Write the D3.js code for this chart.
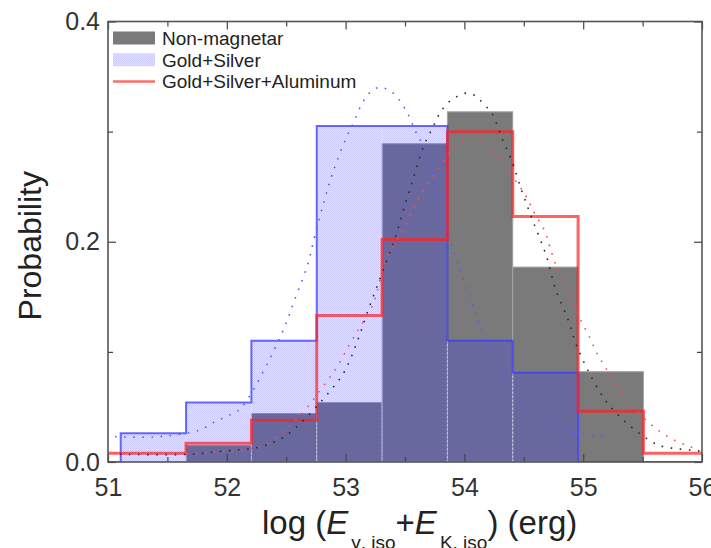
<!DOCTYPE html>
<html lang="en">
<head>
<meta charset="utf-8">
<title>Energy distribution</title>
<script src="https://d3js.org/d3.v7.min.js"></script>
<style>
  body { margin: 0; background: #fff; }
  svg { font-family: "Liberation Sans", Arial, sans-serif; }
  .axis path { display: none; }
  .axis line { stroke: #444; stroke-width: 1.2; }
  .axis text { fill: #333; font-size: 25px; }
</style>
</head>
<body>
<script>
// histogram bins (lower/upper edges, shared by the three samples)
var binEdges = [50.557, 51.107, 51.657, 52.207, 52.757, 53.307, 53.857, 54.407, 54.957, 55.507, 56.057];
var nonMagnetar = [0, 0, 0.015, 0.044, 0.054, 0.289, 0.318, 0.177, 0.082, 0];
var goldSilver = [0, 0.026, 0.054, 0.110, 0.305, 0.305, 0.110, 0.081, 0, 0];
var goldSilverAl = [0.008, 0.008, 0.017, 0.038, 0.133, 0.202, 0.300, 0.223, 0.046, 0.008];

// fitted curves
var fitGoldSilver = [[51.06,0.023],[51.43,0.023],[51.77,0.029],[51.89,0.036],[52.03,0.043],[52.12,0.049],
  [52.46,0.116],[52.57,0.147],[52.68,0.179],[52.74,0.205],[52.82,0.237],[52.89,0.262],[53.0,0.293],
  [53.07,0.309],[53.14,0.326],[53.2,0.335],[53.27,0.340],[53.34,0.339],[53.42,0.333],[53.52,0.317],
  [53.59,0.300],[53.66,0.285],[53.79,0.237],[53.9,0.195],[53.98,0.170],[54.06,0.147],[54.13,0.123],
  [54.23,0.097],[54.3,0.081],[54.39,0.065],[54.52,0.048],[54.68,0.036],[54.82,0.030],[54.96,0.026],[55.2,0.023]];
var fitNonMagnetar = [[51.1,0.007],[51.67,0.007],[51.98,0.010],[52.29,0.014],[52.51,0.025],[52.89,0.067],
  [52.99,0.082],[53.09,0.107],[53.19,0.138],[53.34,0.181],[53.43,0.208],[53.51,0.237],[53.58,0.261],
  [53.65,0.285],[53.73,0.303],[53.8,0.318],[53.87,0.327],[53.94,0.332],[54.02,0.335],[54.1,0.332],
  [54.16,0.325],[54.23,0.317],[54.32,0.293],[54.39,0.276],[54.49,0.244],[54.58,0.218],[54.69,0.187],
  [54.77,0.156],[54.87,0.130],[54.94,0.107],[55.05,0.081],[55.18,0.057],[55.31,0.041],[55.46,0.027],
  [55.6,0.017],[55.67,0.014],[55.98,0.010]];
var fitGoldSilverAl = [[51.05,0.008],[51.75,0.008],[52.12,0.011],[52.29,0.014],[52.5,0.030],[52.65,0.046],
  [52.82,0.070],[52.92,0.085],[53.05,0.110],[53.1,0.119],[53.23,0.143],[53.34,0.184],[53.47,0.208],
  [53.54,0.223],[53.62,0.240],[53.71,0.256],[53.93,0.287],[54.01,0.292],[54.08,0.293],[54.16,0.290],
  [54.23,0.284],[54.3,0.277],[54.35,0.268],[54.51,0.243],[54.59,0.226],[54.68,0.209],[54.72,0.195],
  [54.77,0.179],[54.84,0.163],[54.91,0.147],[54.97,0.131],[55.05,0.114],[55.12,0.098],[55.21,0.082],
  [55.31,0.064],[55.36,0.057],[55.57,0.034],[55.73,0.022],[55.87,0.015],[55.95,0.012]];

var xMajor = [51, 52, 53, 54, 55, 56];
var xMinor = [51.5, 52.5, 53.5, 54.5, 55.5];
var yMajor = [0, 0.2, 0.4];
var yMinor = [0.1, 0.3];
var legendNames = ["Non-magnetar", "Gold+Silver", "Gold+Silver+Aluminum"];

var W = 711, H = 548;
var pLeft = 108, pRight = 702, pTop = 21.5, pBottom = 462;

var svg = d3.select("body").append("svg")
  .attr("width", W)
  .attr("height", H);

var x = d3.scaleLinear().domain([51, 56]).range([pLeft, pRight]);
var y = d3.scaleLinear().domain([0, 0.4]).range([pBottom, pTop]);

var defs = svg.append("defs");
defs.append("clipPath").attr("id", "plotClip")
  .append("rect")
  .attr("x", pLeft).attr("y", pTop)
  .attr("width", pRight - pLeft).attr("height", pBottom - pTop);

// light blue dotted fill: faint wash plus a checker of dots
var pat = defs.append("pattern").attr("id", "gsHatch")
  .attr("width", 2).attr("height", 2)
  .attr("patternUnits", "userSpaceOnUse");
pat.append("rect").attr("width", 2).attr("height", 2)
  .attr("fill", "#2a2aff").attr("fill-opacity", 0.13);
pat.append("rect").attr("x", 0).attr("y", 0).attr("width", 1).attr("height", 1)
  .attr("fill", "#2a2aff").attr("fill-opacity", 0.14);
pat.append("rect").attr("x", 1).attr("y", 1).attr("width", 1).attr("height", 1)
  .attr("fill", "#2a2aff").attr("fill-opacity", 0.14);

var plot = svg.append("g").attr("clip-path", "url(#plotClip)");

function bins(values) {
  return values.map(function(v, i) { return {x0: binEdges[i], x1: binEdges[i + 1], v: v}; })
    .filter(function(d) { return d.v > 0; });
}

// step outline across all bins
function stepPath(values) {
  var p = d3.path();
  p.moveTo(x(binEdges[0]), y(0));
  values.forEach(function(v, i) {
    p.lineTo(x(binEdges[i]), y(v));
    p.lineTo(x(binEdges[i + 1]), y(v));
  });
  p.lineTo(x(binEdges[binEdges.length - 1]), y(0));
  return p.toString();
}

// non-magnetar: solid gray bars
plot.selectAll(".nm").data(bins(nonMagnetar)).enter().append("rect")
  .attr("class", "nm")
  .attr("x", function(d) { return x(d.x0); })
  .attr("width", function(d) { return x(d.x1) - x(d.x0); })
  .attr("y", function(d) { return y(d.v); })
  .attr("height", function(d) { return y(0) - y(d.v); })
  .attr("fill", "#7a7a7a")
  .attr("stroke", "#a2a2a2")
  .attr("stroke-width", 1);

// gold+silver: dotted blue pattern bars
plot.selectAll(".gs").data(bins(goldSilver)).enter().append("rect")
  .attr("class", "gs")
  .attr("x", function(d) { return x(d.x0); })
  .attr("width", function(d) { return x(d.x1) - x(d.x0); })
  .attr("y", function(d) { return y(d.v); })
  .attr("height", function(d) { return y(0) - y(d.v); })
  .attr("fill", "url(#gsHatch)")
  .attr("stroke", "rgba(255,255,255,0.4)")
  .attr("stroke-dasharray", "2,2")
  .attr("stroke-width", 1);

plot.append("path")
  .attr("d", stepPath(goldSilver))
  .attr("fill", "none")
  .attr("stroke", "#2f2fff")
  .attr("stroke-opacity", 0.72)
  .attr("stroke-width", 2);

plot.append("path")
  .attr("d", stepPath(goldSilverAl))
  .attr("fill", "none")
  .attr("stroke", "#ff1f1f")
  .attr("stroke-opacity", 0.7)
  .attr("stroke-width", 3);

// dotted fit curves
var line = d3.line()
  .x(function(d) { return x(d[0]); })
  .y(function(d) { return y(d[1]); })
  .curve(d3.curveCatmullRom.alpha(0.5));

var fits = [
  {pts: fitGoldSilver, color: "#5a5aff"},
  {pts: fitNonMagnetar, color: "#2a2a2a"},
  {pts: fitGoldSilverAl, color: "#ff4a4a"}
];
plot.selectAll(".fit").data(fits).enter().append("path")
  .attr("class", "fit")
  .attr("d", function(d) { return line(d.pts); })
  .attr("fill", "none")
  .attr("stroke", function(d) { return d.color; })
  .attr("stroke-width", 1.6)
  .attr("stroke-dasharray", "1.6,7.5");

// axes with inward ticks
svg.append("g").attr("class", "axis")
  .attr("transform", "translate(0," + pBottom + ")")
  .call(d3.axisBottom(x).tickValues(xMajor).tickSize(-8).tickPadding(16).tickFormat(d3.format("d")));
svg.append("g").attr("class", "axis")
  .attr("transform", "translate(0," + pBottom + ")")
  .call(d3.axisBottom(x).tickValues(xMinor).tickSize(-5).tickFormat(""));
svg.append("g").attr("class", "axis")
  .attr("transform", "translate(0," + pTop + ")")
  .call(d3.axisTop(x).tickValues(xMajor).tickSize(-8).tickFormat(""));
svg.append("g").attr("class", "axis")
  .attr("transform", "translate(0," + pTop + ")")
  .call(d3.axisTop(x).tickValues(xMinor).tickSize(-5).tickFormat(""));

svg.append("g").attr("class", "axis")
  .attr("transform", "translate(" + pLeft + ",0)")
  .call(d3.axisLeft(y).tickValues(yMajor).tickSize(-8).tickPadding(8).tickFormat(d3.format(".1f")));
svg.append("g").attr("class", "axis")
  .attr("transform", "translate(" + pLeft + ",0)")
  .call(d3.axisLeft(y).tickValues(yMinor).tickSize(-5).tickFormat(""));
svg.append("g").attr("class", "axis")
  .attr("transform", "translate(" + pRight + ",0)")
  .call(d3.axisRight(y).tickValues(yMajor).tickSize(-8).tickFormat(""));
svg.append("g").attr("class", "axis")
  .attr("transform", "translate(" + pRight + ",0)")
  .call(d3.axisRight(y).tickValues(yMinor).tickSize(-5).tickFormat(""));

// frame
svg.append("rect")
  .attr("x", pLeft).attr("y", pTop)
  .attr("width", pRight - pLeft).attr("height", pBottom - pTop)
  .attr("fill", "none")
  .attr("stroke", "#555")
  .attr("stroke-width", 1.6);

// axis titles
svg.append("text")
  .attr("transform", "translate(41," + ((pTop + pBottom) / 2 + 4) + ") rotate(-90)")
  .attr("text-anchor", "middle")
  .attr("font-size", 32)
  .attr("fill", "#222")
  .text("Probability");

var xt = svg.append("text")
  .attr("x", 262).attr("y", 534)
  .attr("font-size", 33)
  .attr("fill", "#222");
xt.append("tspan").text("log (");
xt.append("tspan").attr("font-style", "italic").text("E");
xt.append("tspan").attr("font-size", 19).attr("dx", 3).attr("dy", 15).text("\u03b3, iso");
xt.append("tspan").attr("dy", -15).text("+");
xt.append("tspan").attr("font-style", "italic").text("E");
xt.append("tspan").attr("font-size", 19).attr("dx", 3).attr("dy", 15).text("K, iso");
xt.append("tspan").attr("dy", -15).text(") (erg)");

// legend
var leg = svg.append("g").attr("transform", "translate(113,31.5)");
var rows = leg.selectAll("g").data(legendNames).enter().append("g")
  .attr("transform", function(d, i) { return "translate(0," + (i * 21.7) + ")"; });
rows.filter(function(d, i) { return i === 0; }).append("rect")
  .attr("width", 42).attr("height", 13).attr("fill", "#7a7a7a");
rows.filter(function(d, i) { return i === 1; }).append("rect")
  .attr("width", 42).attr("height", 13).attr("fill", "url(#gsHatch)");
rows.filter(function(d, i) { return i === 2; }).append("line")
  .attr("x1", 0).attr("x2", 42).attr("y1", 6.5).attr("y2", 6.5)
  .attr("stroke", "#ff1f1f").attr("stroke-opacity", 0.66).attr("stroke-width", 2.5);
rows.append("text")
  .attr("x", 49).attr("y", 13.5)
  .attr("font-size", 19)
  .attr("fill", "#222")
  .text(function(d) { return d; });
</script>
</body>
</html>
